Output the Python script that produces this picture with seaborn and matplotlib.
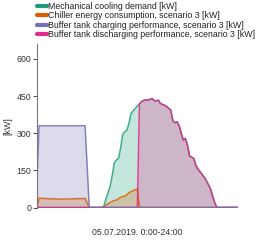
import numpy as np
import pandas as pd
import seaborn as sns
import matplotlib.pyplot as plt

# Data (15 min steps, 05.07.2019)
hours = np.arange(0, 24.25, 0.25)

charging = [107] + [330] * 23 + [165] + [0] * 72

chiller = ([0, 38, 37, 37, 36, 36, 35, 35, 35, 34, 34, 34, 34, 34, 34, 34,
            35, 35, 35, 35, 36, 36, 36, 37, 18] + [0] * 7 +
           [2, 10, 15, 20, 25, 28, 30, 36, 41, 44, 46, 52, 60, 64, 68, 72, 75] +
           [0] * 48)

discharging_pm = [418, 427, 432, 434, 434, 436, 440, 432, 430, 434, 420, 416,
                  413, 408, 400, 393, 350, 342, 346, 330, 300, 272, 279, 250,
                  208, 203, 198, 170, 155, 144, 134, 122, 108, 92, 75, 45, 20]
discharging = [0] * 49 + discharging_pm + [0] * 11

demand_am = [5, 35, 60, 85, 130, 180, 192, 198, 240, 295, 306, 312, 340, 380,
             390, 400, 410]
demand = [0] * 32 + demand_am + discharging_pm + [0] * 11

labels = ["Mechanical cooling demand [kW]",
          "Chiller energy consumption, scenario 3 [kW]",
          "Buffer tank charging performance, scenario 3 [kW]",
          "Buffer tank discharging performance, scenario 3 [kW]"]
series = [demand, chiller, charging, discharging]
colors = sns.color_palette("Dark2", 4)

sns.set_style("ticks")
plt.rcParams["font.family"] = ["Liberation Sans", "DejaVu Sans"]
fs = 6.3

fig = plt.figure(figsize=(2.57, 2.40), dpi=100)
ax = fig.add_axes([37 / 257, 1 - 207.5 / 240, 200.7 / 257, 163.5 / 240])

for s, c in zip(series, colors):
    ax.fill_between(hours, 0, s, color=c, alpha=0.25, linewidth=0)

# draw purple last so the shared zero line gets its dark tone
lines = {}
for k in [0, 1, 3, 2]:
    sns.lineplot(x=hours, y=series[k], color=colors[k], linewidth=1.1,
                 alpha=0.85, ax=ax)
    lines[k] = ax.lines[-1]

ax.set_xlim(0, 24)
ax.set_ylim(0, 660)
ax.set_yticks([0, 150, 300, 450, 600])
ax.set_xticks([])
ax.tick_params(axis="y", labelsize=fs, colors="#555555", length=3, width=0.8,
               pad=1, labelcolor="#333333")
ax.set_ylabel("[kW]", fontsize=fs, color="#333333", labelpad=3)
ax.set_xlabel("05.07.2019. 0:00-24:00", fontsize=fs, color="#333333",
              labelpad=15)
sns.despine(ax=ax, bottom=True)
ax.spines["left"].set_color("#777777")
ax.spines["left"].set_linewidth(0.8)

leg = fig.legend([lines[k] for k in range(4)], labels, loc="upper left",
                 bbox_to_anchor=(36 / 257, 0.997), frameon=False,
                 fontsize=fs, handlelength=1.15, handletextpad=0.15,
                 labelspacing=0.07, borderpad=0.1, borderaxespad=0)
for h in leg.get_lines():
    h.set_linewidth(3)
    h.set_alpha(1)
for t in leg.get_texts():
    t.set_color("#222222")

fig.savefig("out.png", dpi=100)
